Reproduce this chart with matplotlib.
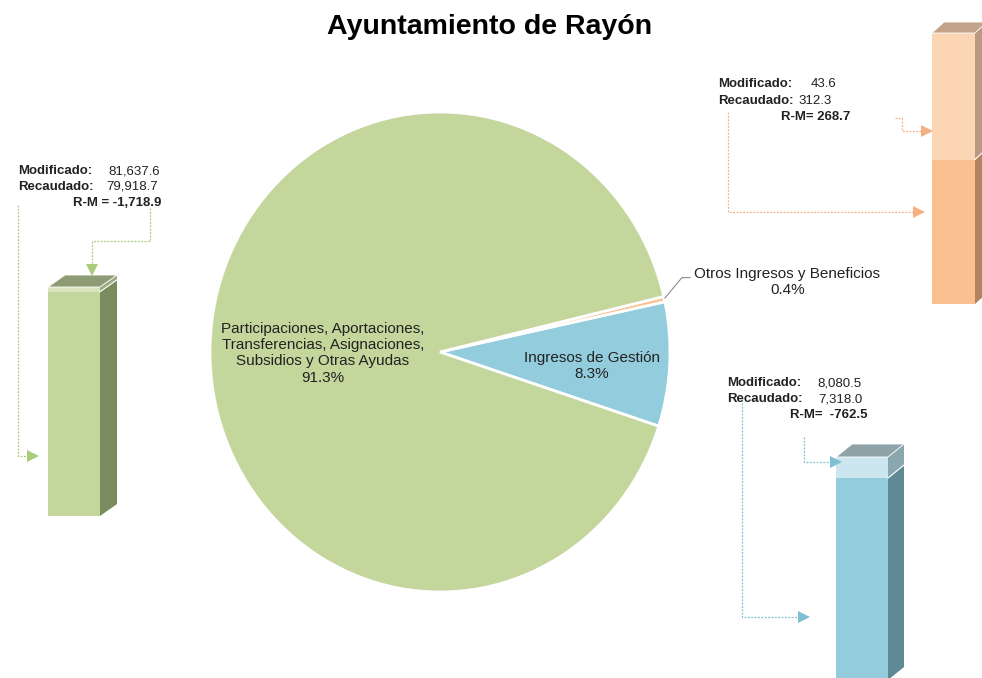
import matplotlib
matplotlib.use("Agg")
import matplotlib.pyplot as plt
from matplotlib.patches import Polygon
from matplotlib.lines import Line2D
from matplotlib.transforms import IdentityTransform

plt.rcParams['font.family'] = ['Liberation Sans', 'DejaVu Sans']

# ---------------- data ----------------
title = "Ayuntamiento de Rayón"
categories = ["Ingresos de Gestión",
              "Otros Ingresos y Beneficios",
              "Participaciones, Aportaciones,\nTransferencias, Asignaciones,\nSubsidios y Otras Ayudas"]
modificado = [8080.5, 43.6, 81637.6]
recaudado = [7318.0, 312.3, 79918.7]
diferencia = [-762.5, 268.7, -1718.9]
pct_labels = ["8.3%", "0.4%", "91.3%"]
mod_labels = ["8,080.5", "43.6", "81,637.6"]
rec_labels = ["7,318.0", "312.3", "79,918.7"]
dif_labels = ["R-M=  -762.5", "R-M= 268.7", "R-M = -1,718.9"]

# ---------------- styling ----------------
W, H = 982, 678
pie_colors = ['#93CDDD', '#FAC090', '#C3D69B']
TXT = '#222222'

fig = plt.figure(figsize=(W / 100, H / 100), dpi=100)
fig.patch.set_facecolor('white')
ID = IdentityTransform()


def fx(px):
    return px / W


def fy(py):
    return 1 - py / H


def disp(px, py):
    return px, H - py


# ---------------- title ----------------
fig.text(fx(490), fy(27), title, ha='center', va='center', fontsize=20.5,
         fontweight='bold', color='black')

# ---------------- pie ----------------
ax = fig.add_axes([fx(210), fy(592), 460 / W, 480 / H])
wedges, _ = ax.pie(recaudado, colors=pie_colors, startangle=-18, counterclock=True,
                   radius=1, wedgeprops=dict(edgecolor='white', linewidth=2))
ax.set_aspect('auto')
ax.set_xlim(-1, 1)
ax.set_ylim(-1, 1)
ax.axis('off')

ax.text(-0.51, -0.005, categories[2] + "\n" + pct_labels[2], ha='center', va='center',
        fontsize=11, color=TXT, linespacing=1.2)
ax.text(0.66, -0.058, categories[0] + "\n" + pct_labels[0], ha='center', va='center',
        fontsize=11, color=TXT, linespacing=1.2)
ax.text(1.51, 0.29, categories[1] + "\n" + pct_labels[1], ha='center', va='center',
        fontsize=11, color=TXT, linespacing=1.2, clip_on=False)
ax.add_line(Line2D([0.978, 1.052, 1.087], [0.225, 0.31, 0.31], color='#8C8C8C',
                   linewidth=0.8, clip_on=False))


# ---------------- 3D bars ----------------
def draw_bar(left, right, top, bottom, mod, rec, front_lo, front_hi, side_lo, side_hi,
             top_col, dx, dy, yscale='linear', ymin=0.0):
    bax = fig.add_axes([fx(left), fy(bottom), (right - left) / W, (bottom - top) / H])
    bax.set_yscale(yscale)
    lo, hi = min(mod, rec), max(mod, rec)
    bax.set_xlim(-0.5, 0.5)
    bax.set_ylim(ymin, hi)
    bax.axis('off')
    segs = [(ymin, lo, front_lo, side_lo), (lo, hi, front_hi, side_hi)]
    for b, t, fc, sc in segs:
        bax.bar(0, t - b, bottom=b, width=1, color=fc, linewidth=0)
        x1, yb = bax.transData.transform((0.5, b))
        _, yt = bax.transData.transform((0.5, t))
        fig.add_artist(Polygon([(x1, yb), (x1, yt), (x1 + dx, yt + dy), (x1 + dx, yb + dy)],
                               closed=True, transform=ID, facecolor=sc, edgecolor='none'))
    x0, yt = bax.transData.transform((-0.5, hi))
    x1, _ = bax.transData.transform((0.5, hi))
    fig.add_artist(Polygon([(x0, yt), (x1, yt), (x1 + dx, yt + dy), (x0 + dx, yt + dy)],
                           closed=True, transform=ID, facecolor=top_col,
                           edgecolor='white', linewidth=0.6))
    # light line between segments
    _, ym = bax.transData.transform((0.5, lo))
    fig.add_artist(Line2D([x1, x1 + dx], [ym, ym + dy], color='white', linewidth=0.8,
                          transform=ID))
    return bax


# green (Participaciones)
draw_bar(48, 100, 287, 516, modificado[2], recaudado[2], '#C3D69B', '#D7E4BD',
         '#7A8B5E', '#9AAB80', '#8E9C76', 17, 12)
# blue (Ingresos de Gestión)
draw_bar(836, 888, 457, 680, modificado[0], recaudado[0], '#93CDDD', '#CBE6EE',
         '#5F8A95', '#8AA7AF', '#8FA3A9', 16, 13)
# orange (Otros ingresos) - log scale
draw_bar(932, 975, 33, 304, modificado[1], recaudado[1], '#FAC090', '#FCD5B5',
         '#B08560', '#B89A84', '#C2A48C', 12, 11, yscale='log', ymin=4.6)


# ---------------- connectors ----------------
def connector(pts, color, direction):
    xs = [disp(*p)[0] for p in pts]
    ys = [disp(*p)[1] for p in pts]
    fig.add_artist(Line2D(xs, ys, color=color, linewidth=0.9, linestyle=(0, (1.5, 1.2)),
                          transform=ID))
    tx, ty = xs[-1], ys[-1]
    if direction == '>':
        tx -= 4
    elif direction == 'v':
        ty += 4
    fig.add_artist(Line2D([tx], [ty], marker=direction, markersize=8, color=color,
                          markeredgewidth=0, linestyle='none', transform=ID))


g_col = '#A9CB7A'
o_col = '#F4B183'
b_col = '#7FC1D3'
connector([(18, 205), (18, 456), (37, 456)], g_col, '>')
connector([(150, 208), (150, 241), (92, 241), (92, 274)], g_col, 'v')
connector([(895, 118), (902, 118), (902, 131), (931, 131)], o_col, '>')
connector([(728, 112), (728, 212), (923, 212)], o_col, '>')
connector([(742, 403), (742, 617), (808, 617)], b_col, '>')
connector([(804, 437), (804, 462), (840, 462)], b_col, '>')


# ---------------- annotation blocks ----------------
def block(xl, xr_mod, xr_rec, xr_dif, y0, dy, i):
    fig.text(fx(xl), fy(y0), "Modificado:", ha='left', va='center', fontsize=9.5,
             fontweight='bold', color=TXT)
    fig.text(fx(xr_mod), fy(y0), mod_labels[i], ha='right', va='center', fontsize=9.5,
             color=TXT)
    fig.text(fx(xl), fy(y0 + dy), "Recaudado:", ha='left', va='center', fontsize=9.5,
             fontweight='bold', color=TXT)
    fig.text(fx(xr_rec), fy(y0 + dy), rec_labels[i], ha='right', va='center', fontsize=9.5,
             color=TXT)
    fig.text(fx(xr_dif), fy(y0 + 2 * dy), dif_labels[i], ha='right', va='center',
             fontsize=9.5, fontweight='bold', color=TXT)


block(18, 160, 158, 161, 171, 16, 2)
block(718, 836, 832, 850, 84, 16.5, 1)
block(727, 862, 863, 867, 383, 16, 0)

fig.savefig('out.png', dpi=100, facecolor='white')
